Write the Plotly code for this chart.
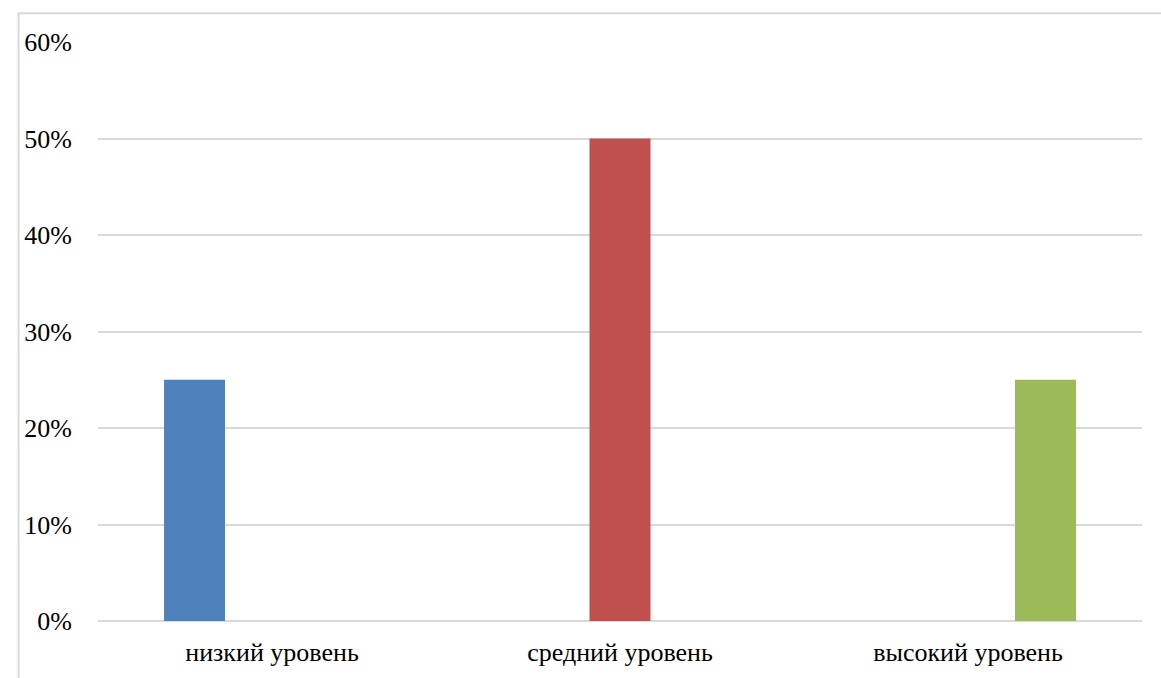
import plotly.graph_objects as go

categories = ["низкий уровень", "средний уровень", "высокий уровень"]
series_names = ["низкий уровень", "средний уровень", "высокий уровень"]
series_values = [
    [0.25, None, None],
    [None, 0.50, None],
    [None, None, 0.25],
]
series_colors = ["#4F81BD", "#C0504D", "#9BBB59"]
y_ticks = [0, 0.1, 0.2, 0.3, 0.4, 0.5, 0.6]

fig = go.Figure()
for name, vals, color in zip(series_names, series_values, series_colors):
    fig.add_trace(go.Bar(x=categories, y=vals, name=name, marker_color=color,
                         marker_line_width=0, showlegend=False))

font_family = "Liberation Serif"
label_font = dict(family=font_family, size=26, color="#000000")

fig.update_layout(
    width=1161, height=678,
    margin=dict(l=98, r=19, t=42, b=57),
    paper_bgcolor="white", plot_bgcolor="white",
    barmode="group", bargap=0.332, bargroupgap=0.213,
    font=label_font,
    xaxis=dict(showgrid=False, showline=False, zeroline=False,
               ticks="outside", ticklen=8, tickcolor="rgba(0,0,0,0)",
               tickfont=label_font),
    yaxis=dict(range=[0, 0.6], tickvals=y_ticks, tickformat=".0%",
               showgrid=True, gridcolor="#d9d9d9", gridwidth=2,
               zeroline=True, zerolinecolor="#d9d9d9", zerolinewidth=2,
               showline=False, ticks="outside", ticklen=20,
               tickcolor="rgba(0,0,0,0)",
               tickfont=label_font),
    shapes=[dict(type="rect", xref="paper", yref="paper",
                 x0=-0.0761, x1=1.03, y0=-0.2, y1=1.0498,
                 line=dict(color="#d9d9d9", width=2), fillcolor="rgba(0,0,0,0)",
                 layer="below")],
)

fig.write_html("out.html")
